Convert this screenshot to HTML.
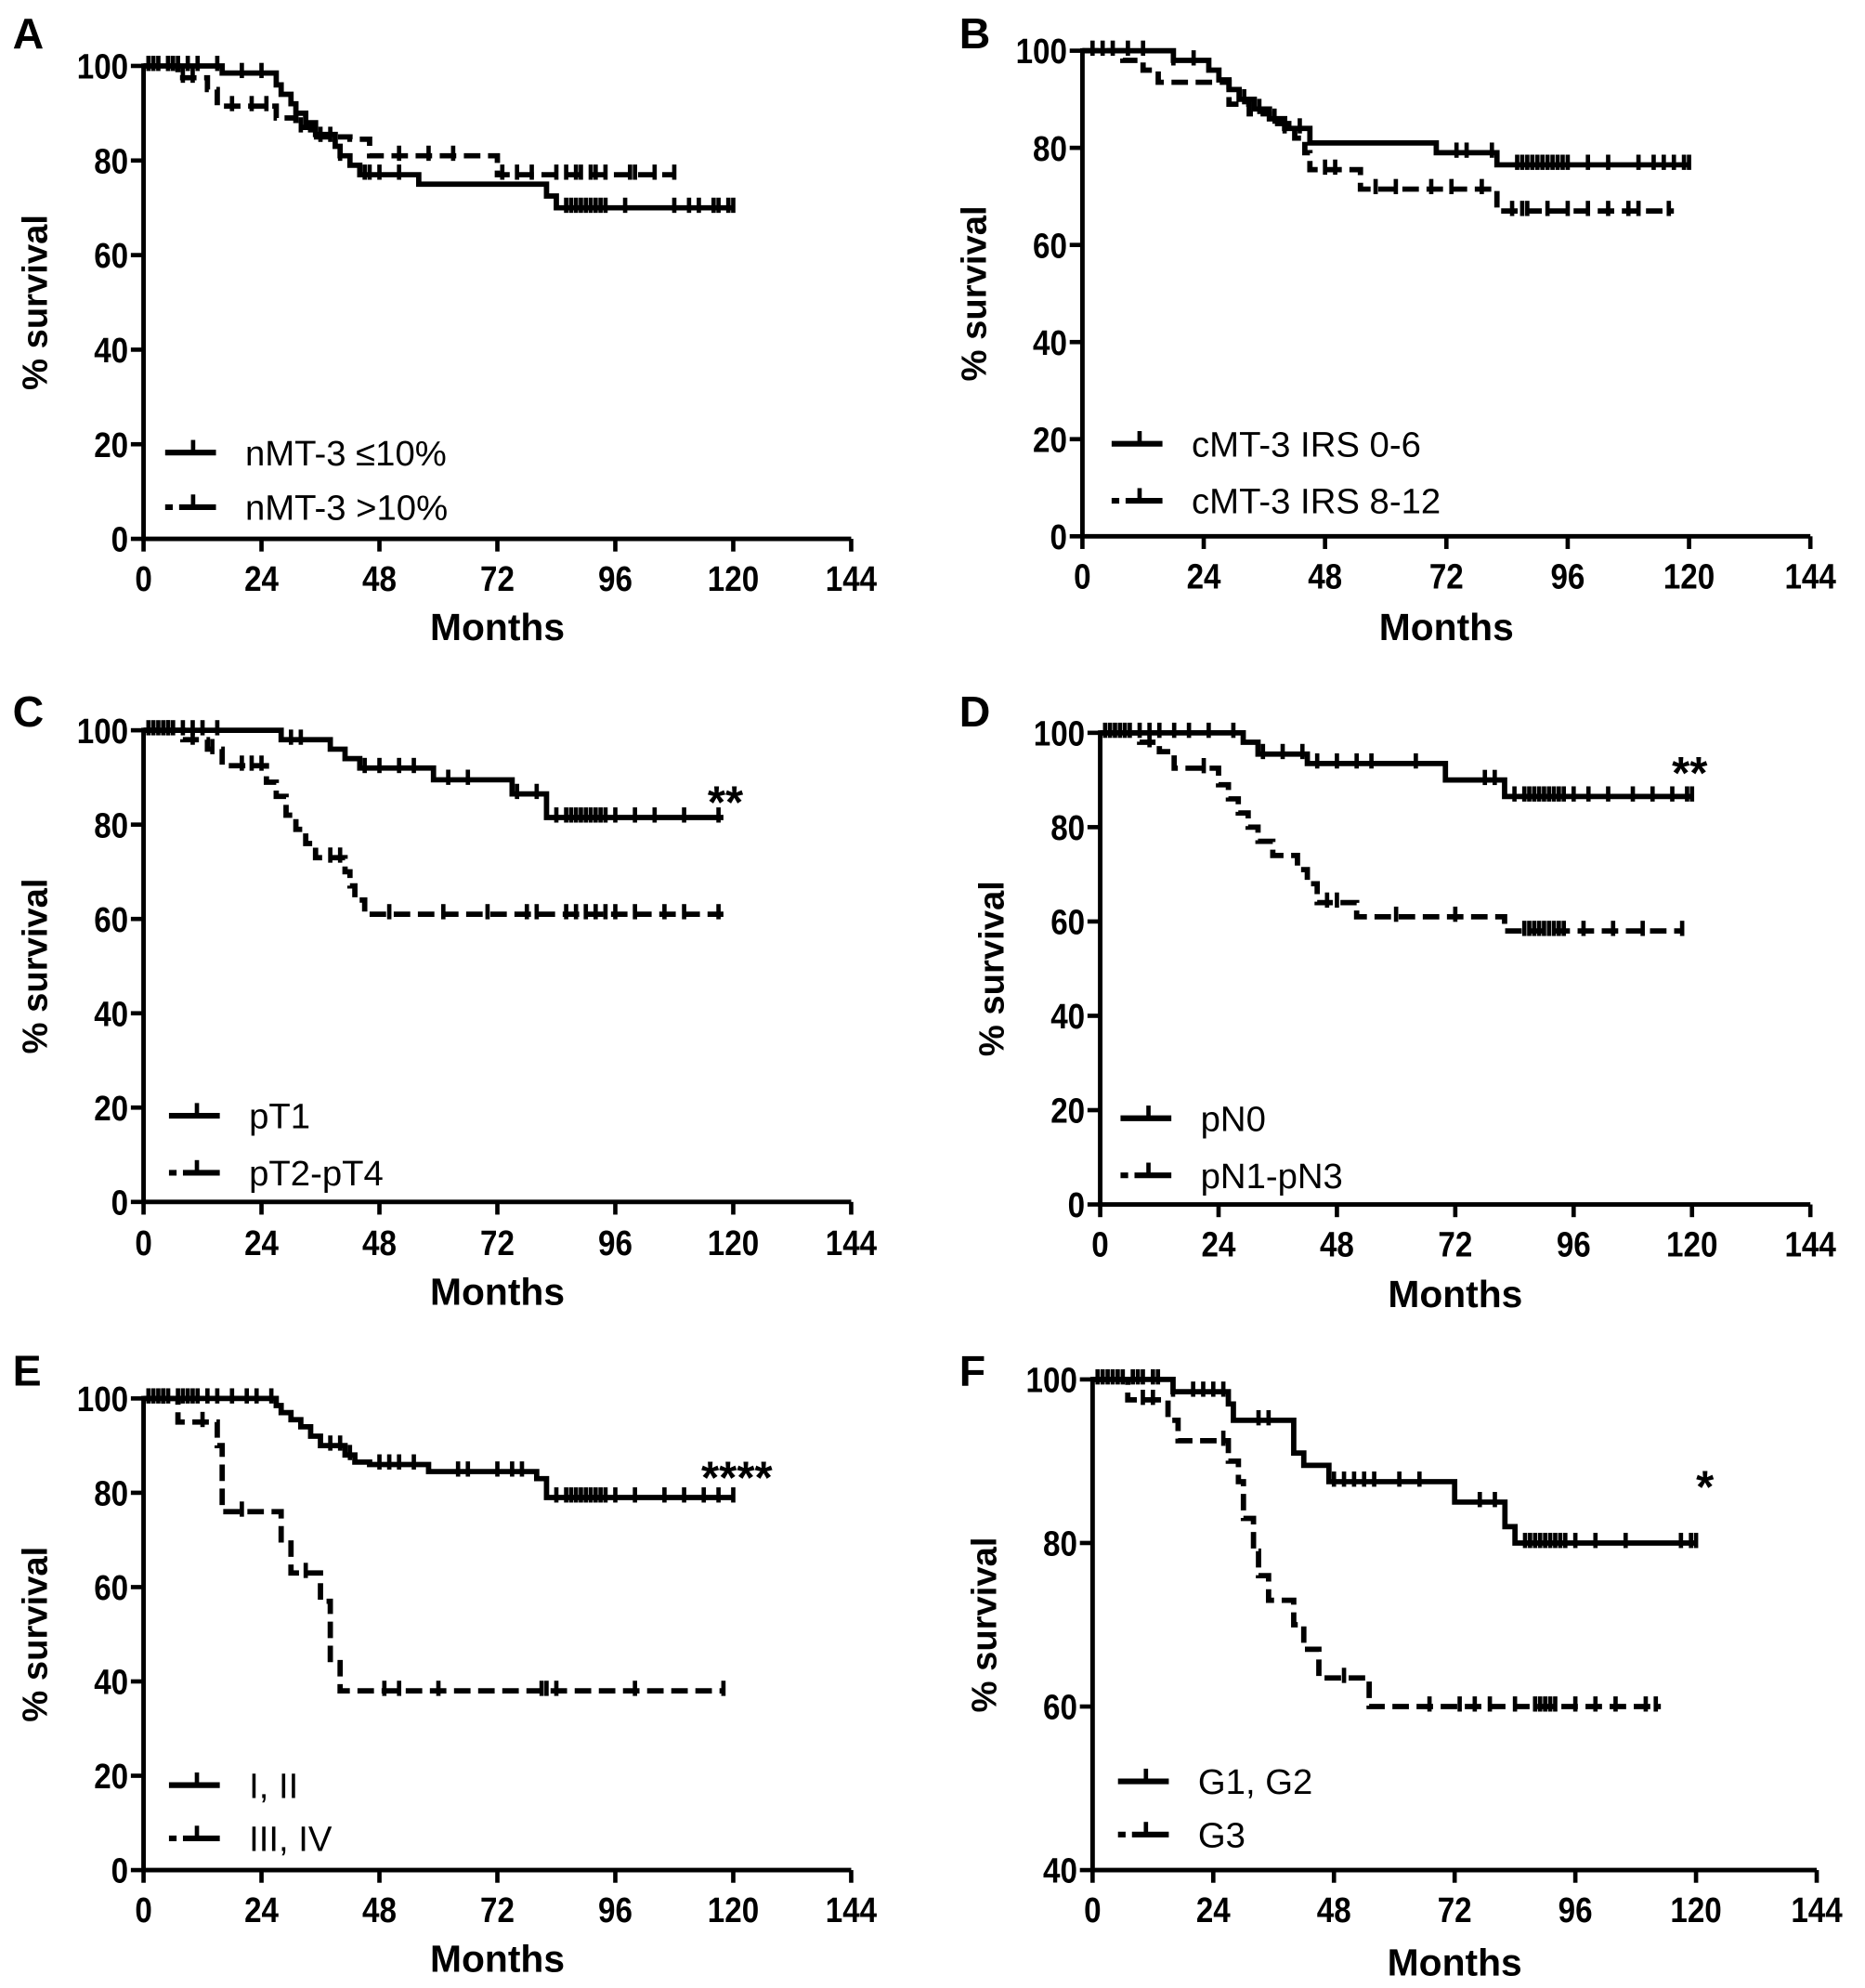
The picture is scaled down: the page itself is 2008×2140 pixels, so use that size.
<!DOCTYPE html>
<html><head><meta charset="utf-8"><style>
html,body{margin:0;padding:0;background:#fff;}
svg{display:block;}
</style></head>
<body>
<svg id="fig" width="2008" height="2140" viewBox="0 0 1468 1568" preserveAspectRatio="none" xmlns="http://www.w3.org/2000/svg"></svg>
<script>
// ---------- data (months, % survival, censor times) ----------
const xTicks = [0,24,48,72,96,120,144];
const yTicks100 = [0,20,40,60,80,100];
const yTicksF = [40,60,80,100];

const A_solid_t = [0,16,27,28,30,31,33,35,39,40,42,44,56,82,84];
const A_solid_s = [100,98.5,96,94,92,90,88,85.5,83,81,79,77,75,72.5,70];
const A_solid_c = [1,2,3,5,6,7,9,11,15,20,24,40,45,46,48,52,86,87,88,89,90,91,92,93,94,98,108,111,113,116,117,119,120];
const A_dash_t = [0,7,13,15,27,31,34,42,46,72];
const A_dash_s = [100,97.5,95,91.5,89,87,85,84.5,81,77];
const A_dash_c = [5,8,10,18,22,25,32,36,38,52,58,63,73,76,79,84,86,88,89,91,92,94,99,100,104,108];

const B_solid_t = [0,18,25,27,29,31,34,37,40,45,70,82];
const B_solid_s = [100,98,96,94,92,90,88,86,84,81,79,76.5];
const B_solid_c = [2,4,6,9,12,18,22,32,35,38,40,43,74,76,81,86,87,88,89,90,91,92,93,94,95,96,100,104,110,113,115,117,119,120];
const B_dash_t = [0,8,12,15,29,33,37,42,44,45,55,82];
const B_dash_s = [100,98,96,93.5,89,87,85,82,79,75.5,71.5,67];
const B_dash_c = [48,50,58,62,69,73,79,85,87,88,92,96,100,104,108,110,116];

const C_solid_t = [0,28,38,41,44,59,75,82];
const C_solid_s = [100,98,96,94,92,89.5,86.5,81.5];
const C_solid_c = [1,2,3,4,5,6,8,10,12,15,30,32,45,48,52,55,62,66,76,80,84,86,87,88,89,90,91,92,93,94,96,100,104,110,117];
const C_dash_t = [0,8,13,16,25,27,29,31,33,35,41,42,43,45];
const C_dash_s = [100,98,96,92.5,89,86,82,79,76,73,70,67,64,61];
const C_dash_c = [5,10,14,20,22,24,38,40,50,61,70,78,80,86,88,90,92,94,96,100,106,110,117];

const D_solid_t = [0,29,32,42,70,82];
const D_solid_s = [100,98,95.5,93.5,90,86.5];
const D_solid_c = [1,2,3,4,6,8,10,12,15,18,22,27,33,37,41,44,48,52,55,64,78,80,84,86,87,88,89,90,91,92,93,94,96,99,103,108,112,116,119,120];
const D_dash_t = [0,8,12,15,24,26,28,30,32,35,40,42,44,52,82];
const D_dash_s = [100,98,96,92.5,89,86,83,80,77,74,71,68,64,61,58];
const D_dash_c = [5,10,21,46,48,60,72,86,87,88,89,90,91,92,93,94,98,104,110,118];

const E_solid_t = [0,27,28,30,32,34,36,41,43,46,58,80,82];
const E_solid_s = [100,98.5,97,95.5,94,92,90,88,86.5,86,84.5,83,79];
const E_solid_c = [1,2,3,4,5,7,8,9,10,11,13,15,18,21,23,26,38,40,42,48,50,52,55,64,66,72,75,77,84,86,87,88,89,90,91,92,93,94,96,100,106,110,114,117,120];
const E_dash_t = [0,7,15,16,28,30,36,38,40];
const E_dash_s = [100,95,90,76,70,63,57,44,38];
const E_dash_c = [4,12,20,33,49,52,60,81,82,84,100,118];

const F_solid_t = [0,16,27,28,40,42,47,72,82,84];
const F_solid_s = [100,98.5,97,95,91,89.5,87.5,85,82,80];
const F_solid_c = [1,2,3,4,5,6,8,9,10,12,13,16,20,22,24,26,33,35,48,50,52,54,56,61,65,77,80,86,87,88,89,90,91,92,93,94,96,100,106,117,119,120];
const F_dash_t = [0,7,15,17,27,29,30,32,33,35,40,42,45,55];
const F_dash_s = [100,97.5,95,92.5,90,87.5,83,79,76,73,70,67,63.5,60];
const F_dash_c = [10,12,26,50,67,73,76,79,84,88,89,90,91,92,96,100,104,110,112];

// ---------- layout (in 1468x1568 viewBox units) ----------
const panels = [
 {id:'a',letter:'A',lx:10,ly:38,x0:113,x1:670,y0:425,y1:52,ymin:0,ticks:yTicks100,tickY:466,monY:505,
  st:A_solid_t,ss:A_solid_s,sc:A_solid_c,dt:A_dash_t,ds:A_dash_s,dc:A_dash_c,send:120,dend:108,
  legX:130,legY:[357,400],labels:['nMT-3 \u226410%','nMT-3 >10%'],star:null},
 {id:'b',letter:'B',lx:755,ly:38,x0:852,x1:1425,y0:423,y1:40,ymin:0,ticks:yTicks100,tickY:464,monY:505,
  st:B_solid_t,ss:B_solid_s,sc:B_solid_c,dt:B_dash_t,ds:B_dash_s,dc:B_dash_c,send:120,dend:117,
  legX:875,legY:[350,395],labels:['cMT-3 IRS 0-6','cMT-3 IRS 8-12'],star:null},
 {id:'c',letter:'C',lx:10,ly:573,x0:113,x1:670,y0:948,y1:576,ymin:0,ticks:yTicks100,tickY:990,monY:1029,
  st:C_solid_t,ss:C_solid_s,sc:C_solid_c,dt:C_dash_t,ds:C_dash_s,dc:C_dash_c,send:118,dend:118,
  legX:133,legY:[880,925],labels:['pT1','pT2-pT4'],star:['**',571,645]},
 {id:'d',letter:'D',lx:755,ly:573,x0:866,x1:1425,y0:950,y1:578,ymin:0,ticks:yTicks100,tickY:991,monY:1031,
  st:D_solid_t,ss:D_solid_s,sc:D_solid_c,dt:D_dash_t,ds:D_dash_s,dc:D_dash_c,send:120,dend:118,
  legX:882,legY:[882,927],labels:['pN0','pN1-pN3'],star:['**',1330,622]},
 {id:'e',letter:'E',lx:10,ly:1093,x0:113,x1:670,y0:1475,y1:1103,ymin:0,ticks:yTicks100,tickY:1516,monY:1555,
  st:E_solid_t,ss:E_solid_s,sc:E_solid_c,dt:E_dash_t,ds:E_dash_s,dc:E_dash_c,send:120,dend:118,
  legX:133,legY:[1408,1450],labels:['I, II','III, IV'],star:['****',580,1178]},
 {id:'f',letter:'F',lx:755,ly:1093,x0:860,x1:1430,y0:1475,y1:1088,ymin:40,ticks:yTicksF,tickY:1516,monY:1558,
  st:F_solid_t,ss:F_solid_s,sc:F_solid_c,dt:F_dash_t,ds:F_dash_s,dc:F_dash_c,send:120,dend:113,
  legX:880,legY:[1405,1447],labels:['G1, G2','G3'],star:['*',1342,1185]}
];

const NS='http://www.w3.org/2000/svg';
const svg=document.getElementById('fig');
function mk(tag,attrs,parent){const e=document.createElementNS(NS,tag);for(const k in attrs)e.setAttribute(k,attrs[k]);(parent||svg).appendChild(e);return e;}
const SANS='"Liberation Sans", Arial, sans-serif';

function survAt(t,ts,ss){let v=ss[0];for(let i=0;i<ts.length;i++){if(ts[i]<=t)v=ss[i];}return v;}

panels.forEach(p=>{
  const g=mk('g',{});
  
  
  const X=m=>p.x0+(m/144)*(p.x1-p.x0);
  const Y=v=>p.y0-((v-p.ymin)/(100-p.ymin))*(p.y0-p.y1);

  const L=mk('text',{x:p.lx,y:p.ly,'font-family':SANS,'font-weight':'bold','font-size':34,fill:'#000'},g);
  L.textContent=p.letter;
  
  

  const ax=mk('path',{d:`M${p.x0},${p.y1-2} L${p.x0},${p.y0} L${p.x1},${p.y0}`,stroke:'#000','stroke-width':3.6,fill:'none'},g);
  
  

  xTicks.forEach(t=>{
    mk('line',{x1:X(t),x2:X(t),y1:p.y0,y2:p.y0+10,stroke:'#000','stroke-width':3.4},g);
    const tx=mk('text',{x:X(t),y:p.tickY,'text-anchor':'middle','font-family':SANS,'font-weight':'bold','font-size':28,textLength:String(t).length*13.5,lengthAdjust:'spacingAndGlyphs'},g);
    tx.textContent=t;
    
    
  });
  p.ticks.forEach(t=>{
    mk('line',{x1:p.x0-10,x2:p.x0,y1:Y(t),y2:Y(t),stroke:'#000','stroke-width':3.4},g);
    const ty=mk('text',{x:p.x0-12,y:Y(t)+10,'text-anchor':'end','font-family':SANS,'font-weight':'bold','font-size':28,textLength:String(t).length*13.5,lengthAdjust:'spacingAndGlyphs'},g);
    ty.textContent=t;
    
    
  });
  const mo=mk('text',{x:(p.x0+p.x1)/2,y:p.monY,'text-anchor':'middle','font-family':SANS,'font-weight':'bold','font-size':30,textLength:106,lengthAdjust:'spacingAndGlyphs'},g);
  mo.textContent='Months';
  
  
  const cy=(p.y0+p.y1)/2;
  const yt=mk('text',{x:0,y:0,transform:`translate(${p.x0-76},${cy}) rotate(-90)`,'text-anchor':'middle','font-family':SANS,'font-weight':'bold','font-size':28},g);
  yt.textContent='% survival';
  
  

  function curve(ts,ss,cs,end,dashed,name){
    let d=`M${X(0)},${Y(ss[0])}`;
    for(let i=1;i<ts.length;i++){d+=` L${X(ts[i])},${Y(ss[i-1])} L${X(ts[i])},${Y(ss[i])}`;}
    d+=` L${X(end)},${Y(ss[ss.length-1])}`;
    const a={d:d,stroke:'#000','stroke-width':4.2,fill:'none'};
    if(dashed)a['stroke-dasharray']='13 6';
    const pth=mk('path',a,g);
    
    
    cs.forEach(c=>{
      const v=survAt(c,ts,ss);
      const tk=mk('line',{x1:X(c),x2:X(c),y1:Y(v)-8,y2:Y(v)+4,stroke:'#000','stroke-width':3.4},g);
      
      
    });
  }
  curve(p.st,p.ss,p.sc,p.send,false,'group1');
  curve(p.dt,p.ds,p.dc,p.dend,true,'group2');

  [0,1].forEach(i=>{
    const ly=p.legY[i];
    const ll=mk('line',{x1:p.legX,x2:p.legX+40,y1:ly,y2:ly,stroke:'#000','stroke-width':4.5,'stroke-dasharray':i?'6 5 29':'none'},g);
    
    
    mk('line',{x1:p.legX+22,x2:p.legX+22,y1:ly-10,y2:ly,stroke:'#000','stroke-width':3.4},g);
    const lt=mk('text',{x:p.legX+63,y:ly+10,'font-family':SANS,'font-size':28},g);
    lt.textContent=p.labels[i];
    
    
  });
  if(p.star){
    const s=mk('text',{x:p.star[1],y:p.star[2],'text-anchor':'middle','font-family':SANS,'font-weight':'bold','font-size':36},g);
    s.textContent=p.star[0];
    
    
  }
});
</script>
</body></html>
